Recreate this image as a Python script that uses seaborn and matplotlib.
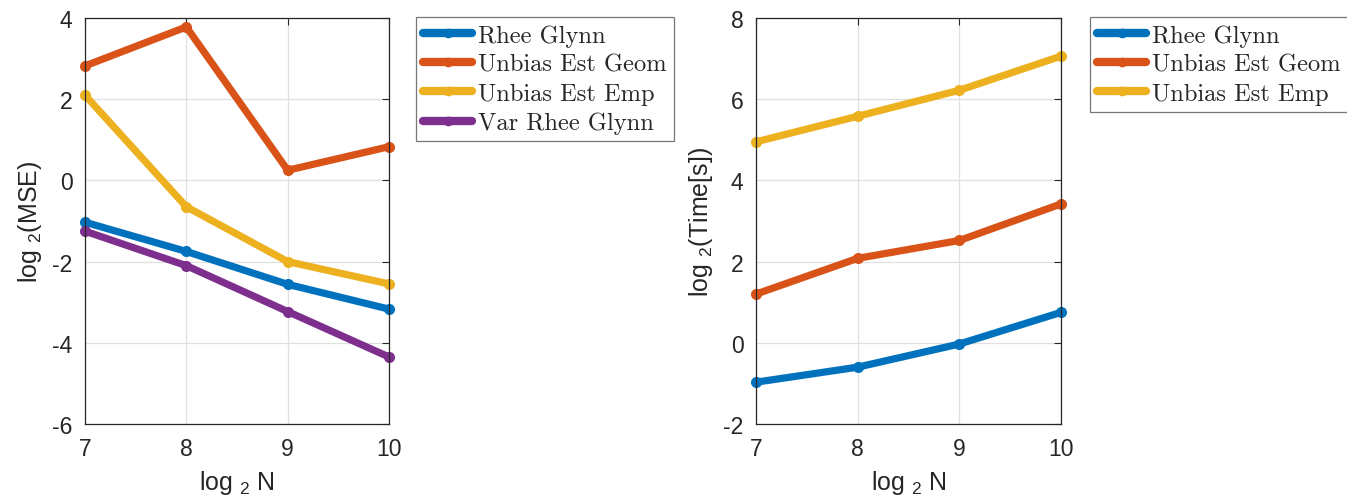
import matplotlib
matplotlib.use("Agg")
import matplotlib.pyplot as plt
import seaborn as sns
import pandas as pd

sns.set_style("white")
plt.rcParams['font.family'] = ['Liberation Sans', 'DejaVu Sans']
plt.rcParams['axes.unicode_minus'] = False
plt.rcParams['mathtext.fontset'] = 'custom'
plt.rcParams['mathtext.rm'] = 'Liberation Sans'
plt.rcParams['mathtext.it'] = 'Liberation Sans'

log2N = [7, 8, 9, 10]

mse_methods = ["Rhee Glynn", "Unbias Est Geom", "Unbias Est Emp", "Var Rhee Glynn"]
mse_rhee = [-1.03, -1.75, -2.56, -3.17]
mse_geom = [2.82, 3.78, 0.25, 0.83]
mse_emp = [2.10, -0.65, -2.00, -2.55]
mse_var = [-1.25, -2.10, -3.23, -4.35]

time_methods = ["Rhee Glynn", "Unbias Est Geom", "Unbias Est Emp"]
time_rhee = [-0.97, -0.60, -0.03, 0.75]
time_geom = [1.20, 2.08, 2.52, 3.42]
time_emp = [4.95, 5.58, 6.22, 7.06]

colors = ["#0072BD", "#D95319", "#EDB120", "#7E2F8E"]

mse_df = pd.DataFrame({
    "N": log2N * 4,
    "val": mse_rhee + mse_geom + mse_emp + mse_var,
    "method": sum([[m] * 4 for m in mse_methods], []),
})
time_df = pd.DataFrame({
    "N": log2N * 3,
    "val": time_rhee + time_geom + time_emp,
    "method": sum([[m] * 4 for m in time_methods], []),
})

W, H = 1347, 502
fig = plt.figure(figsize=(W / 100, H / 100), dpi=100)
ax1 = fig.add_axes([85 / W, 1 - 425 / H, 304 / W, 406 / H])
ax2 = fig.add_axes([756 / W, 1 - 425 / H, 305 / W, 406 / H])


def style(ax, ylim, yticks, ylabel):
    ax.set_xlim(7, 10)
    ax.set_ylim(*ylim)
    ax.set_xticks(log2N)
    ax.set_yticks(yticks)
    ax.grid(True, color="#e0e0e0", linewidth=0.9)
    ax.set_axisbelow(True)
    ax.tick_params(direction="in", top=True, right=True, length=5,
                   width=0.8, labelsize=16.5, colors="#262626", pad=9)
    for s in ax.spines.values():
        s.set_color("#262626")
        s.set_linewidth(0.9)
    ax.set_xlabel(r"log $_{2}$ N", fontsize=18, color="#262626", labelpad=6)
    ax.set_ylabel(ylabel, fontsize=18, color="#262626", labelpad=6)


def draw(ax, df, methods, loc):
    sns.lineplot(data=df, x="N", y="val", hue="method", hue_order=methods,
                 palette=colors[:len(methods)], marker="o", markersize=8,
                 markeredgewidth=0, linewidth=5.2, ax=ax, legend=True,
                 solid_joinstyle="round", solid_capstyle="round", clip_on=False)
    handles, labels = ax.get_legend_handles_labels()
    ax.get_legend().remove()
    for h in handles:
        h.set_linewidth(6)
        h.set_markersize(7)
    leg = fig.legend(handles, labels, loc="upper left", bbox_to_anchor=loc,
                     bbox_transform=fig.transFigure, borderaxespad=0,
                     frameon=True, fancybox=False, edgecolor="#555555",
                     prop={"family": "cmr10", "size": 17.6},
                     handlelength=2.0, handletextpad=0.25, labelspacing=0.28,
                     borderpad=0.3)
    leg.get_frame().set_linewidth(0.9)


draw(ax1, mse_df, mse_methods, (416 / W, 1 - 18 / H))
style(ax1, (-6, 4), [-6, -4, -2, 0, 2, 4], r"log $_{2}$(MSE)")
draw(ax2, time_df, time_methods, (1090 / W, 1 - 18 / H))
style(ax2, (-2, 8), [-2, 0, 2, 4, 6, 8], r"log $_{2}$(Time[s])")

fig.savefig("out.png", dpi=100, facecolor="white")
